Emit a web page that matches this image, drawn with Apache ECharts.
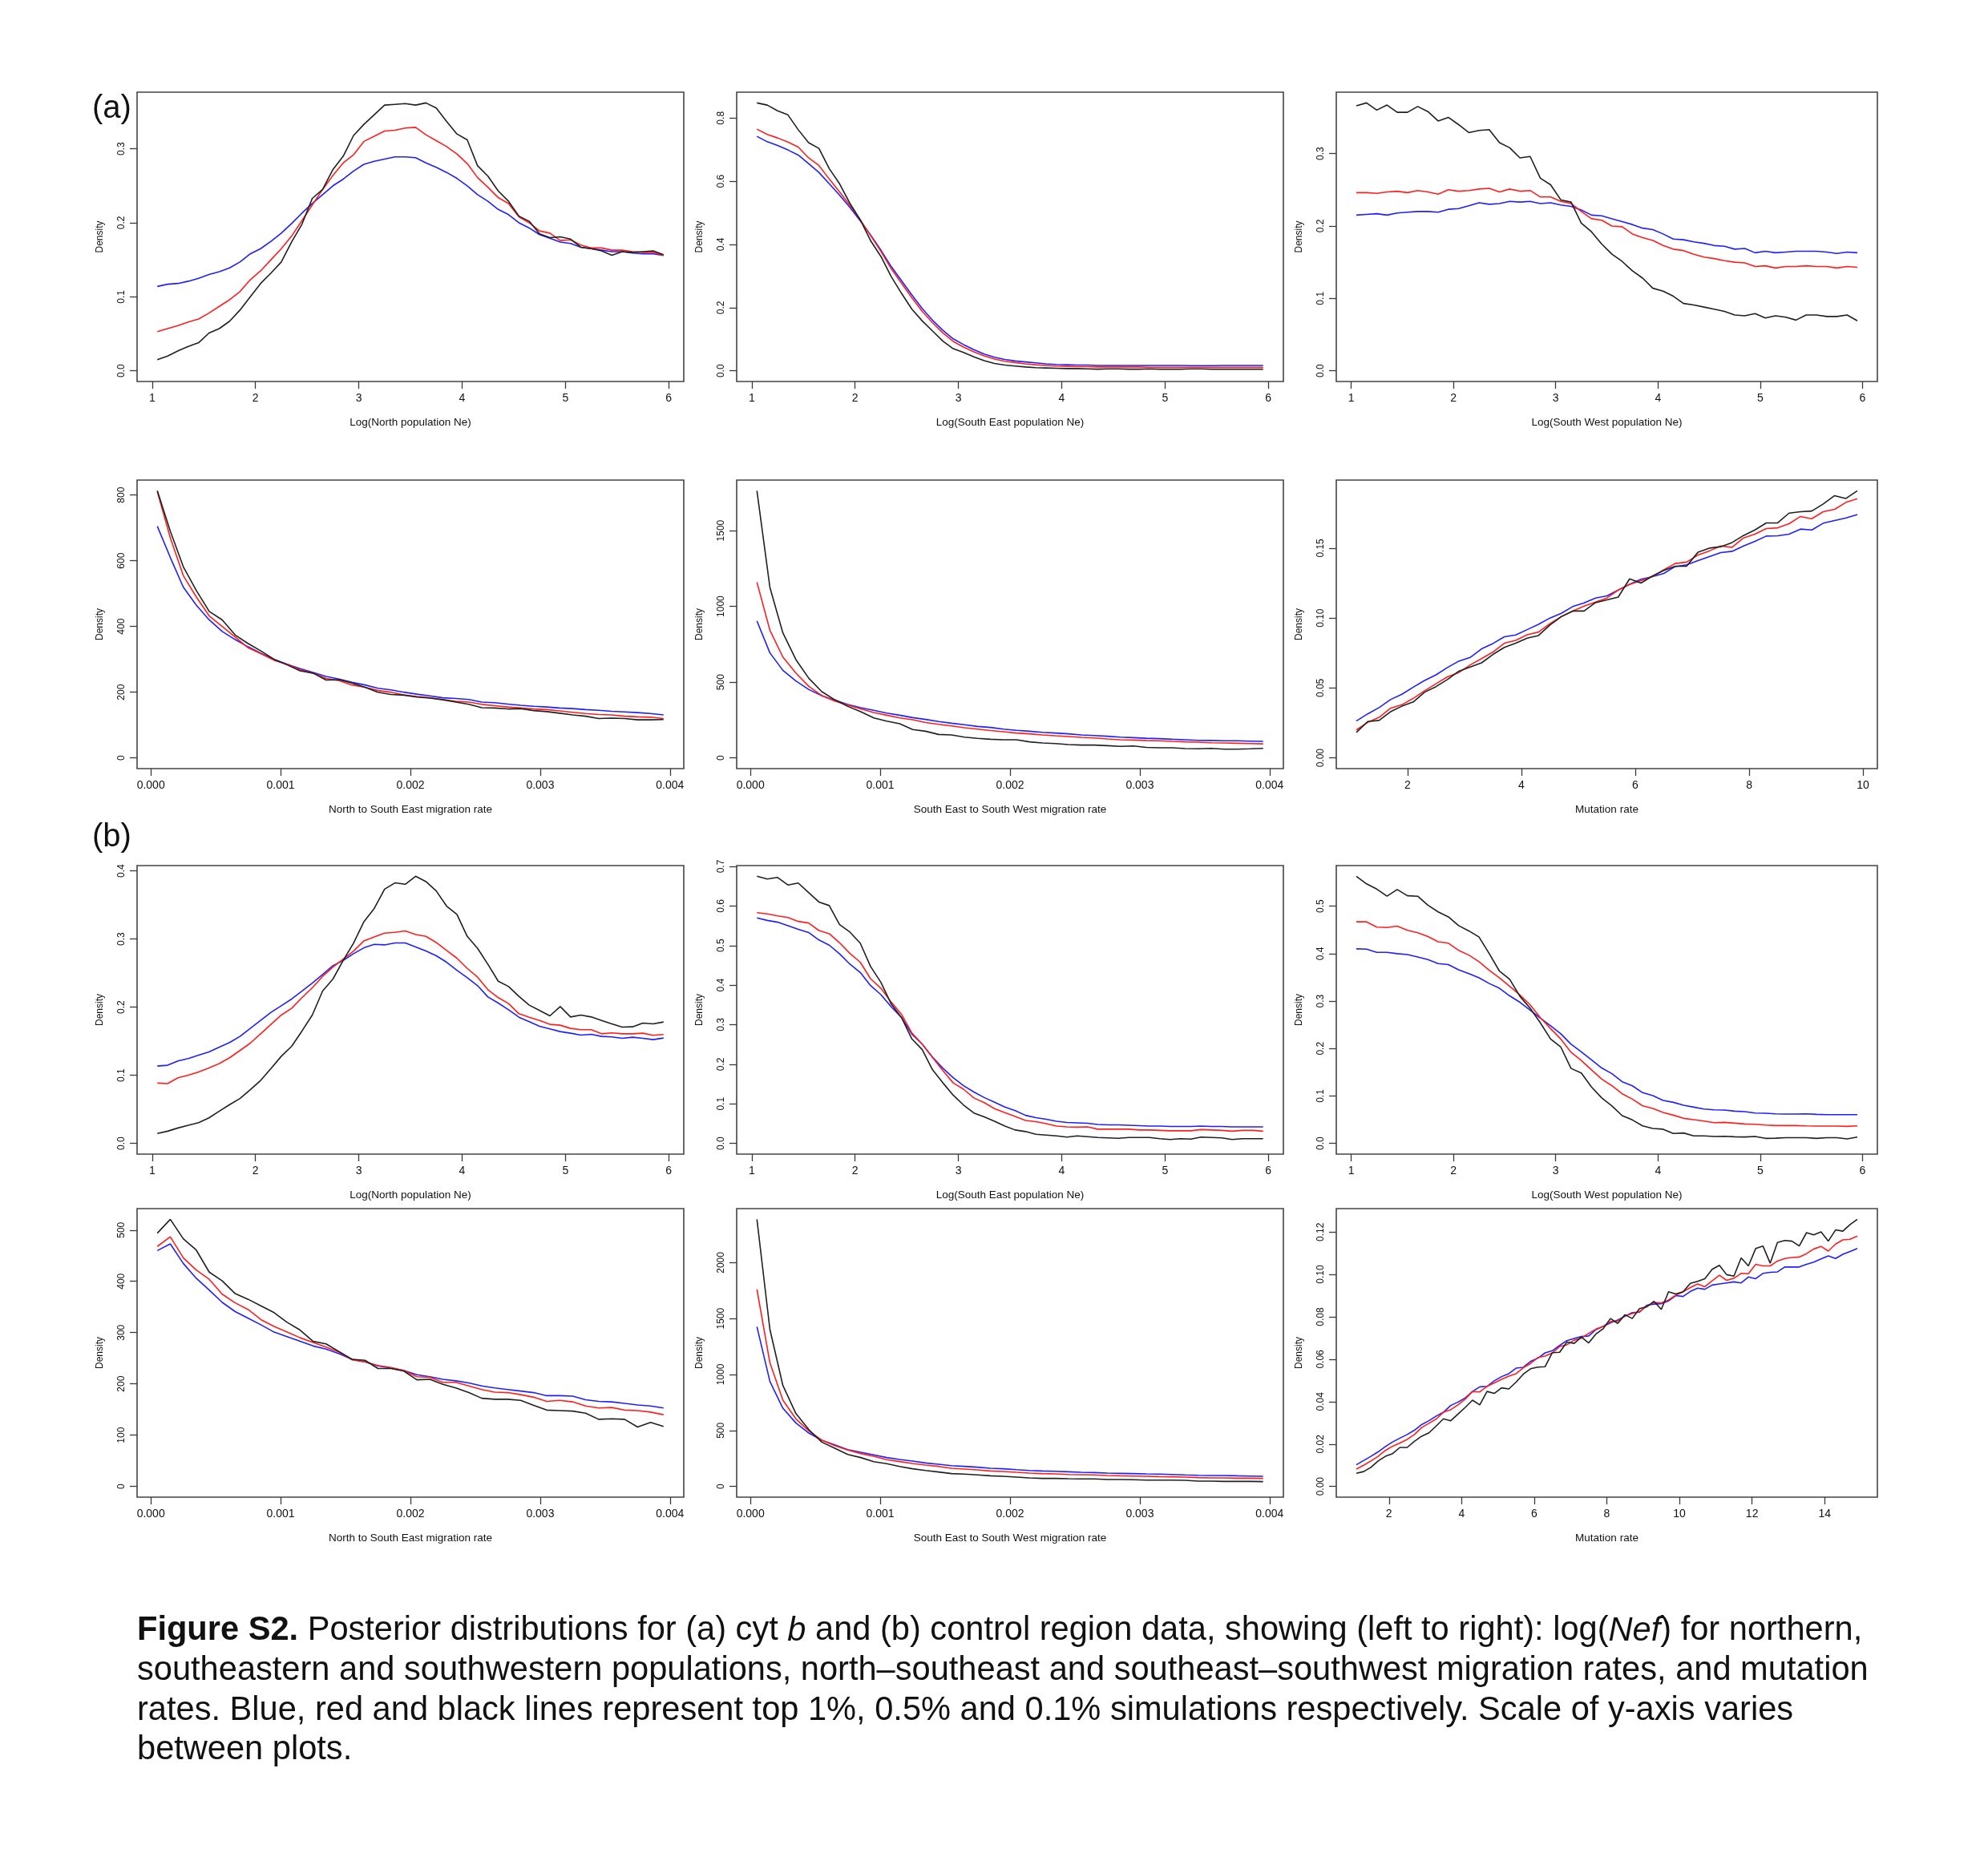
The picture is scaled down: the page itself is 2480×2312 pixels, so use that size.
<!DOCTYPE html>
<html>
<head>
<meta charset="utf-8">
<script src="https://cdn.jsdelivr.net/npm/echarts@6/dist/echarts.min.js"></script>
<style>html,body{margin:0;padding:0;background:#fff}#c{width:2480px;height:2312px}</style>
</head>
<body>
<div id="c"></div>
<script>
// ---------- x positions (bin centres) ----------
const popX = [1.05,1.15,1.25,1.35,1.45,1.55,1.65,1.75,1.85,1.95,2.05,2.15,2.25,2.35,2.45,2.55,2.65,2.75,2.85,2.95,3.05,3.15,3.25,3.35,3.45,3.55,3.65,3.75,3.85,3.95,4.05,4.15,4.25,4.35,4.45,4.55,4.65,4.75,4.85,4.95,5.05,5.15,5.25,5.35,5.45,5.55,5.65,5.75,5.85,5.95];
const migX = [0.00005,0.00015,0.00025,0.00035,0.00045,0.00055,0.00065,0.00075,0.00085,0.00095,0.00105,0.00115,0.00125,0.00135,0.00145,0.00155,0.00165,0.00175,0.00185,0.00195,0.00205,0.00215,0.00225,0.00235,0.00245,0.00255,0.00265,0.00275,0.00285,0.00295,0.00305,0.00315,0.00325,0.00335,0.00345,0.00355,0.00365,0.00375,0.00385,0.00395];
const mutXa = [1.1,1.3,1.5,1.7,1.9,2.1,2.3,2.5,2.7,2.9,3.1,3.3,3.5,3.7,3.9,4.1,4.3,4.5,4.7,4.9,5.1,5.3,5.5,5.7,5.9,6.1,6.3,6.5,6.7,6.9,7.1,7.3,7.5,7.7,7.9,8.1,8.3,8.5,8.7,8.9,9.1,9.3,9.5,9.7,9.9];
const mutXb = [1.1,1.3,1.5,1.7,1.9,2.1,2.3,2.5,2.7,2.9,3.1,3.3,3.5,3.7,3.9,4.1,4.3,4.5,4.7,4.9,5.1,5.3,5.5,5.7,5.9,6.1,6.3,6.5,6.7,6.9,7.1,7.3,7.5,7.7,7.9,8.1,8.3,8.5,8.7,8.9,9.1,9.3,9.5,9.7,9.9,10.1,10.3,10.5,10.7,10.9,11.1,11.3,11.5,11.7,11.9,12.1,12.3,12.5,12.7,12.9,13.1,13.3,13.5,13.7,13.9,14.1,14.3,14.5,14.7,14.9];

// ---------- (a) cyt b ----------
const aNorthBlue  = [.114,.117,.118,.121,.125,.130,.134,.139,.147,.158,.165,.175,.186,.199,.213,.226,.238,.250,.259,.270,.279,.283,.286,.289,.289,.288,.281,.275,.268,.260,.250,.238,.229,.218,.211,.200,.193,.184,.179,.174,.172,.167,.165,.163,.161,.161,.159,.158,.158,.156];
const aNorthRed   = [.053,.057,.061,.066,.070,.078,.087,.096,.107,.123,.135,.150,.165,.182,.203,.224,.245,.264,.281,.292,.310,.317,.324,.325,.328,.329,.319,.311,.303,.293,.280,.261,.248,.234,.226,.208,.200,.189,.186,.176,.177,.170,.166,.166,.163,.163,.161,.160,.160,.156];
const aNorthBlack = [.015,.020,.027,.033,.038,.051,.057,.067,.082,.100,.118,.132,.147,.174,.198,.233,.245,.272,.290,.318,.333,.346,.359,.360,.361,.359,.362,.355,.337,.320,.312,.277,.263,.243,.229,.209,.202,.185,.180,.181,.178,.167,.165,.162,.156,.161,.160,.161,.162,.157];

const aSEBlue  = [.742,.725,.713,.699,.683,.656,.628,.592,.556,.517,.475,.430,.382,.330,.285,.240,.197,.160,.128,.101,.083,.067,.053,.043,.036,.031,.028,.025,.022,.020,.019,.018,.018,.017,.017,.017,.017,.017,.017,.017,.017,.017,.016,.016,.016,.017,.017,.017,.017,.017];
const aSERed   = [.765,.748,.737,.724,.708,.674,.650,.607,.566,.524,.478,.428,.378,.323,.277,.231,.188,.152,.120,.093,.075,.060,.047,.037,.030,.026,.022,.019,.017,.015,.014,.013,.013,.012,.012,.012,.012,.012,.011,.011,.011,.011,.011,.011,.011,.011,.011,.011,.011,.011];
const aSEBlack = [.848,.841,.823,.810,.763,.722,.704,.640,.592,.530,.478,.412,.362,.298,.245,.195,.158,.126,.094,.070,.058,.044,.032,.023,.018,.015,.012,.010,.009,.008,.007,.007,.006,.005,.006,.006,.005,.005,.006,.005,.005,.005,.006,.006,.005,.005,.005,.005,.005,.005];

const aSWBlue  = [.215,.216,.217,.215,.218,.219,.220,.220,.219,.223,.224,.228,.232,.230,.231,.234,.233,.234,.231,.232,.229,.227,.222,.215,.214,.210,.206,.202,.197,.195,.189,.182,.181,.178,.176,.173,.172,.168,.169,.163,.165,.163,.164,.165,.165,.165,.164,.162,.164,.163];
const aSWRed   = [.246,.246,.245,.247,.248,.246,.249,.247,.244,.250,.248,.249,.251,.252,.247,.251,.248,.249,.240,.240,.234,.231,.220,.210,.208,.200,.199,.189,.184,.180,.173,.168,.166,.161,.157,.155,.152,.150,.149,.144,.145,.142,.144,.144,.145,.144,.144,.142,.144,.143];
const aSWBlack = [.366,.370,.360,.367,.357,.357,.365,.358,.345,.350,.340,.329,.332,.333,.315,.308,.294,.296,.266,.257,.236,.233,.204,.192,.175,.161,.151,.138,.128,.114,.110,.103,.093,.091,.088,.085,.082,.077,.076,.079,.073,.076,.074,.070,.077,.077,.075,.075,.077,.069];

const aMigNSEBlue  = [705,610,520,465,420,385,360,338,318,300,285,272,260,248,240,230,222,212,207,200,194,189,183,181,178,170,168,164,160,157,155,152,150,147,145,142,140,138,135,131];
const aMigNSERed   = [810,670,555,490,432,400,368,335,317,297,285,268,258,242,235,222,215,205,200,192,187,183,178,172,170,163,159,155,152,149,147,143,139,135,132,131,127,125,124,120];
const aMigNSEBlack = [813,690,582,510,446,420,374,348,325,300,283,265,258,237,238,228,215,200,193,191,185,182,177,170,163,153,152,149,150,144,141,136,131,127,120,121,120,116,116,117];

const aMigSWBlue  = [904,693,578,508,451,411,381,353,331,314,296,282,266,254,240,229,219,208,201,190,182,176,169,164,159,152,148,143,137,134,130,127,123,120,116,115,113,113,111,109];
const aMigSWRed   = [1160,843,666,560,472,411,375,349,323,300,282,264,252,234,222,211,199,190,181,173,164,159,152,146,141,136,132,125,120,118,115,113,109,106,104,100,99,97,95,93];
const aMigSWBlack = [1763,1125,825,649,525,437,384,340,305,264,243,226,187,176,155,152,137,129,123,120,120,106,99,95,88,85,85,81,76,79,70,67,67,62,60,63,58,58,60,63];

const aMutBlue  = [.0264,.0315,.036,.0417,.0455,.0506,.0554,.0594,.0646,.0692,.0718,.078,.0818,.0866,.0879,.0917,.0955,.100,.1034,.1082,.1108,.1143,.1158,.120,.1242,.1277,.1296,.1319,.1368,.138,.141,.1439,.1468,.1477,.1515,.1548,.1586,.1588,.160,.1636,.163,.1678,.1697,.1716,.174];
const aMutRed   = [.020,.0254,.029,.0355,.038,.0426,.048,.053,.058,.061,.0665,.071,.0757,.082,.084,.088,.090,.096,.101,.105,.1085,.1114,.1143,.120,.124,.1267,.1296,.1345,.139,.140,.145,.148,.1515,.1506,.1573,.160,.164,.1645,.1674,.1726,.171,.176,.1777,.1827,.1853];
const aMutBlack = [.0182,.026,.0268,.033,.037,.040,.047,.051,.056,.062,.065,.068,.074,.079,.082,.0856,.0875,.095,.101,.105,.105,.111,.113,.115,.128,.125,.130,.134,.137,.137,.147,.150,.151,.154,.159,.163,.168,.168,.175,.176,.1765,.1815,.1875,.1855,.191];

// ---------- (b) control region ----------
const bNorthBlue  = [.1136,.1148,.1211,.1246,.1297,.1344,.1415,.1481,.1571,.1689,.1806,.1924,.2022,.212,.2237,.2355,.248,.261,.2688,.2786,.2872,.2923,.2915,.2943,.2943,.2884,.2825,.2755,.2661,.2543,.2433,.2316,.2151,.2061,.1963,.1853,.1787,.172,.1681,.1642,.1618,.1591,.1603,.1571,.1564,.1544,.156,.1544,.1524,.1548];
const bNorthRed   = [.0886,.0878,.0964,.1003,.105,.1109,.1172,.1258,.1364,.1473,.161,.1748,.1885,.1983,.214,.2285,.2453,.259,.2708,.2825,.2974,.3033,.3088,.310,.3119,.3068,.304,.295,.2833,.272,.257,.2441,.2257,.214,.2053,.1904,.1853,.1806,.1748,.1736,.1689,.1669,.1669,.161,.1622,.161,.161,.1618,.1587,.1599];
const bNorthBlack = [.0145,.018,.0227,.0266,.0306,.0376,.0474,.057,.066,.0788,.0925,.110,.128,.1426,.165,.1885,.2237,.2414,.2688,.2943,.3256,.345,.3734,.3825,.3805,.3922,.3844,.3707,.3484,.3362,.304,.2864,.263,.2382,.2304,.216,.203,.1952,.1873,.201,.1857,.1885,.1857,.1806,.1755,.1708,.1712,.1767,.1755,.1783];

const bSEBlue  = [.570,.5635,.559,.550,.541,.533,.514,.501,.479,.453,.432,.399,.376,.345,.318,.276,.251,.218,.190,.166,.146,.130,.116,.104,.092,.083,.071,.065,.061,.056,.053,.052,.051,.048,.047,.047,.046,.045,.044,.044,.043,.043,.043,.044,.043,.043,.042,.042,.042,.042];
const bSERed   = [.583,.580,.575,.571,.561,.557,.538,.530,.507,.480,.458,.416,.392,.357,.326,.279,.251,.217,.184,.153,.137,.115,.103,.088,.078,.068,.058,.055,.050,.044,.042,.041,.042,.036,.036,.036,.036,.034,.034,.033,.032,.032,.032,.035,.034,.033,.031,.033,.033,.031];
const bSEBlack = [.675,.668,.672,.653,.658,.634,.610,.601,.553,.534,.506,.447,.407,.352,.318,.264,.237,.186,.153,.122,.097,.077,.067,.056,.044,.034,.030,.023,.021,.019,.016,.019,.017,.015,.014,.013,.015,.015,.015,.012,.010,.012,.011,.016,.015,.014,.010,.012,.012,.012];

const bSWBlue  = [.410,.4095,.4027,.4027,.400,.398,.393,.3875,.379,.377,.366,.358,.349,.337,.327,.311,.2975,.281,.264,.248,.231,.209,.193,.176,.159,.147,.130,.1215,.107,.1007,.0906,.0866,.0804,.0765,.0726,.0709,.0703,.068,.0669,.0641,.0636,.0624,.0619,.0619,.0624,.0613,.0607,.0607,.0607,.0607];
const bSWRed   = [.467,.467,.456,.455,.458,.449,.444,.436,.425,.422,.407,.397,.383,.365,.349,.331,.313,.292,.265,.242,.220,.192,.175,.155,.1355,.1215,.1046,.0934,.0793,.0737,.0652,.0596,.0529,.050,.0472,.0439,.0444,.0427,.041,.0405,.0388,.0377,.0377,.0377,.0371,.0366,.0366,.0366,.036,.0371];
const bSWBlack = [.563,.547,.536,.521,.535,.522,.521,.502,.488,.4775,.459,.448,.435,.400,.363,.346,.310,.285,.254,.220,.203,.158,.1485,.119,.096,.079,.0585,.0495,.037,.0315,.030,.021,.022,.016,.016,.0146,.015,.014,.0135,.0146,.0107,.011,.012,.012,.012,.0107,.012,.012,.0096,.0135];

const bMigNSEBlue  = [460,473,435,406,383,359,341,328,315,301,292,283,274,268,259,248,243,235,231,226,218,214,209,206,202,196,192,189,186,183,177,177,176,169,166,165,162,159,157,153];
const bMigNSERed   = [468,487,446,422,404,375,358,345,325,312,301,290,281,272,262,247,243,236,232,226,214,213,203,203,196,189,184,183,179,174,166,168,165,157,153,154,149,148,145,140];
const bMigNSEBlack = [494,521,483,461,418,401,376,365,352,339,320,305,283,278,263,248,246,230,230,225,208,209,199,192,183,172,170,170,168,158,149,148,147,143,131,132,131,116,125,117];

const bMigSWBlue  = [1427,938,699,568,477,413,372,329,305,282,258,241,227,210,198,186,179,172,162,158,150,143,138,136,131,126,124,119,117,115,112,110,107,103,100,98,98,95,93,91];
const bMigSWRed   = [1761,1105,771,604,496,413,365,325,294,270,239,222,205,191,179,162,155,148,138,134,126,119,115,112,107,105,103,98,95,93,91,88,86,84,79,76,76,74,74,72];
const bMigSWBlack = [2387,1403,902,652,508,396,341,286,258,222,203,179,158,143,129,115,110,103,95,91,84,76,72,72,69,67,67,62,62,60,57,57,57,55,48,48,45,45,45,43];

const bMutBlue  = [.0102,.0122,.0142,.0163,.0188,.0210,.0228,.0245,.0265,.0292,.0310,.0332,.0350,.0382,.0398,.0418,.0448,.0470,.0472,.0498,.0518,.0532,.0558,.0562,.0590,.0605,.0630,.0640,.0665,.0688,.0698,.0707,.0710,.0740,.0755,.0772,.0785,.0803,.0820,.0822,.0855,.0860,.0862,.0875,.0900,.0896,.0920,.0935,.0930,.0950,.0955,.0960,.0965,.0960,.0988,.0980,.1005,.1010,.1012,.1035,.1035,.1035,.1048,.1058,.1073,.1087,.1075,.1095,.1108,.1122];
const bMutRed   = [.0082,.0100,.0120,.0142,.0170,.0190,.0205,.0222,.0245,.0278,.0298,.0318,.0350,.0362,.0385,.0412,.0448,.0446,.0472,.0488,.0505,.0520,.0532,.0560,.0580,.0608,.0615,.0630,.0660,.0668,.0690,.0700,.0722,.0742,.0755,.0778,.0780,.0805,.0815,.0825,.0850,.0868,.0865,.0880,.0902,.0918,.0938,.0955,.0942,.0970,.0996,.0972,.0982,.1005,.1003,.1048,.1040,.1040,.1063,.1075,.1080,.1082,.1098,.1120,.1132,.1110,.1143,.1163,.1166,.1181];
const bMutBlack = [.0062,.007,.009,.012,.0142,.0155,.0184,.0184,.0213,.0237,.0253,.0285,.0319,.031,.0341,.0373,.0407,.0385,.0448,.0439,.0465,.046,.0492,.053,.0555,.0563,.0565,.0631,.0633,.0681,.0675,.0704,.0677,.0719,.0744,.0792,.0769,.081,.0792,.0839,.0847,.0873,.0835,.0918,.0908,.0918,.0958,.0967,.098,.1024,.1043,.0999,.0992,.1078,.104,.1122,.1134,.1053,.1151,.116,.1157,.1134,.1197,.1187,.1201,.1157,.121,.1204,.1235,.126];

// ---------- ticks & labels ----------
const popTicks = [1,2,3,4,5,6];
const popTickLabels = ['1','2','3','4','5','6'];
const migTicks = [0,0.001,0.002,0.003,0.004];
const migTickLabels = ['0.000','0.001','0.002','0.003','0.004'];
const mutTicksA = [2,4,6,8,10];
const mutTickLabelsA = ['2','4','6','8','10'];
const mutTicksB = [2,4,6,8,10,12,14];
const mutTickLabelsB = ['2','4','6','8','10','12','14'];

const yTicksA1 = [0,0.1,0.2,0.3];           const yLabelsA1 = ['0.0','0.1','0.2','0.3'];
const yTicksA2 = [0,0.2,0.4,0.6,0.8];       const yLabelsA2 = ['0.0','0.2','0.4','0.6','0.8'];
const yTicksA3 = [0,0.1,0.2,0.3];           const yLabelsA3 = ['0.0','0.1','0.2','0.3'];
const yTicksA4 = [0,200,400,600,800];       const yLabelsA4 = ['0','200','400','600','800'];
const yTicksA5 = [0,500,1000,1500];         const yLabelsA5 = ['0','500','1000','1500'];
const yTicksA6 = [0,0.05,0.10,0.15];        const yLabelsA6 = ['0.00','0.05','0.10','0.15'];
const yTicksB1 = [0,0.1,0.2,0.3,0.4];       const yLabelsB1 = ['0.0','0.1','0.2','0.3','0.4'];
const yTicksB2 = [0,0.1,0.2,0.3,0.4,0.5,0.6,0.7]; const yLabelsB2 = ['0.0','0.1','0.2','0.3','0.4','0.5','0.6','0.7'];
const yTicksB3 = [0,0.1,0.2,0.3,0.4,0.5];   const yLabelsB3 = ['0.0','0.1','0.2','0.3','0.4','0.5'];
const yTicksB4 = [0,100,200,300,400,500];   const yLabelsB4 = ['0','100','200','300','400','500'];
const yTicksB5 = [0,500,1000,1500,2000];    const yLabelsB5 = ['0','500','1000','1500','2000'];
const yTicksB6 = [0,0.02,0.04,0.06,0.08,0.10,0.12]; const yLabelsB6 = ['0.00','0.02','0.04','0.06','0.08','0.10','0.12'];

const xTitles = ['Log(North population Ne)','Log(South East population Ne)','Log(South West population Ne)',
  'North to South East migration rate','South East to South West migration rate','Mutation rate'];
const yTitle = 'Density';
const seriesColors = ['#1f1fff','#ff1f1f','#202020'];

// ---------- panel table ----------
const panels = [
  {x:popX, s:[aNorthBlue,aNorthRed,aNorthBlack], xt:popTicks, xl:popTickLabels, yt:yTicksA1, yl:yLabelsA1, t:xTitles[0]},
  {x:popX, s:[aSEBlue,aSERed,aSEBlack], xt:popTicks, xl:popTickLabels, yt:yTicksA2, yl:yLabelsA2, t:xTitles[1]},
  {x:popX, s:[aSWBlue,aSWRed,aSWBlack], xt:popTicks, xl:popTickLabels, yt:yTicksA3, yl:yLabelsA3, t:xTitles[2]},
  {x:migX, s:[aMigNSEBlue,aMigNSERed,aMigNSEBlack], xt:migTicks, xl:migTickLabels, yt:yTicksA4, yl:yLabelsA4, t:xTitles[3]},
  {x:migX, s:[aMigSWBlue,aMigSWRed,aMigSWBlack], xt:migTicks, xl:migTickLabels, yt:yTicksA5, yl:yLabelsA5, t:xTitles[4]},
  {x:mutXa, s:[aMutBlue,aMutRed,aMutBlack], xt:mutTicksA, xl:mutTickLabelsA, yt:yTicksA6, yl:yLabelsA6, t:xTitles[5]},
  {x:popX, s:[bNorthBlue,bNorthRed,bNorthBlack], xt:popTicks, xl:popTickLabels, yt:yTicksB1, yl:yLabelsB1, t:xTitles[0]},
  {x:popX, s:[bSEBlue,bSERed,bSEBlack], xt:popTicks, xl:popTickLabels, yt:yTicksB2, yl:yLabelsB2, t:xTitles[1]},
  {x:popX, s:[bSWBlue,bSWRed,bSWBlack], xt:popTicks, xl:popTickLabels, yt:yTicksB3, yl:yLabelsB3, t:xTitles[2]},
  {x:migX, s:[bMigNSEBlue,bMigNSERed,bMigNSEBlack], xt:migTicks, xl:migTickLabels, yt:yTicksB4, yl:yLabelsB4, t:xTitles[3]},
  {x:migX, s:[bMigSWBlue,bMigSWRed,bMigSWBlack], xt:migTicks, xl:migTickLabels, yt:yTicksB5, yl:yLabelsB5, t:xTitles[4]},
  {x:mutXb, s:[bMutBlue,bMutRed,bMutBlack], xt:mutTicksB, xl:mutTickLabelsB, yt:yTicksB6, yl:yLabelsB6, t:xTitles[5]}
];

// layout (pixels)
const colLeft = [171, 919, 1667];
const colWidth = [682, 682, 675];
const rowTop = [115, 599, 1080, 1508];
const rowHeight = [361, 360, 360, 360];

const NARROW = '"Liberation Sans Narrow", "Liberation Sans", Arial, sans-serif';
const REG = '"Liberation Sans", Arial, sans-serif';
const AXC = '#3a3a3a';

function labelFor(ticks, labels) {
  return function (v) {
    for (let i = 0; i < ticks.length; i++) if (Math.abs(ticks[i] - v) < 1e-9 * Math.max(1, Math.abs(v)) + 1e-12) return labels[i];
    return '';
  };
}

const grids = [], xAxes = [], yAxes = [], series = [];
panels.forEach((p, i) => {
  const r = Math.floor(i / 3), c = i % 3;
  grids.push({left: colLeft[c], top: rowTop[r], width: colWidth[c], height: rowHeight[r],
    show: true, borderColor: '#444', borderWidth: 1.6, backgroundColor: 'transparent'});
  const xmin = p.x[0], xmax = p.x[p.x.length - 1], xe = 0.04 * (xmax - xmin);
  let ymax = 0;
  p.s.forEach(a => a.forEach(v => { if (v > ymax) ymax = v; }));
  const ye = 0.04 * ymax;
  xAxes.push({type: 'value', gridIndex: i, position: 'bottom', min: xmin - xe, max: xmax + xe,
    axisLine: {show: false, onZero: false}, splitLine: {show: false},
    axisTick: {show: true, length: 9, inside: false, customValues: p.xt, lineStyle: {color: AXC, width: 1.3}},
    axisLabel: {show: true, customValues: p.xt, formatter: labelFor(p.xt, p.xl), margin: 14,
      fontFamily: NARROW, fontSize: 14, color: '#111'},
    name: p.t, nameLocation: 'middle', nameGap: 44,
    nameTextStyle: {fontFamily: NARROW, fontSize: 13.5, color: '#111'}
  });
  yAxes.push({type: 'value', gridIndex: i, position: 'left', min: -ye, max: ymax + ye,
    axisLine: {show: false, onZero: false}, splitLine: {show: false},
    axisTick: {show: true, length: 9, inside: false, customValues: p.yt, lineStyle: {color: AXC, width: 1.3}},
    axisLabel: {show: true, customValues: p.yt, formatter: labelFor(p.yt, p.yl), rotate: 90, margin: 13,
      fontFamily: REG, fontSize: 12, color: '#111'},
    name: yTitle, nameLocation: 'middle', nameGap: 40, nameRotate: 90,
    nameTextStyle: {fontFamily: REG, fontSize: 12, color: '#111'}
  });
  p.s.forEach((arr, k) => {
    series.push({type: 'line', xAxisIndex: i, yAxisIndex: i,
      data: arr.map((v, j) => [p.x[j], v]),
      showSymbol: false, symbol: 'none', silent: true, animation: false,
      lineStyle: {color: seriesColors[k], width: 1.6}, z: 2 + k});
  });
});

const capFont = 41.6;
const rich = {
  b: {fontWeight: 'bold', fontSize: capFont, fontFamily: REG, fill: '#111'},
  i: {fontStyle: 'italic', fontSize: capFont, fontFamily: REG, fill: '#111'},
  n: {fontSize: capFont, fontFamily: REG, fill: '#111'}
};
const captionLines = [
  '{b|Figure S2.}{n| Posterior distributions for (a) cyt }{i|b}{n| and (b) control region data, showing (left to right): log(}{i|Nef}{n|) for northern,}',
  '{n|southeastern and southwestern populations, north\u2013southeast and southeast\u2013southwest migration rates, and mutation}',
  '{n|rates. Blue, red and black lines represent top 1%, 0.5% and 0.1% simulations respectively. Scale of y-axis varies}',
  '{n|between plots.}'
];
const captionY = [2035, 2085, 2135, 2184];

const graphic = [
  {type: 'text', x: 115, y: 136, style: {text: '(a)', fontSize: 40, fontFamily: REG, fill: '#111', verticalAlign: 'middle'}},
  {type: 'text', x: 115, y: 1045, style: {text: '(b)', fontSize: 40, fontFamily: REG, fill: '#111', verticalAlign: 'middle'}}
];
captionLines.forEach((t, i) => {
  graphic.push({type: 'text', x: 171, y: captionY[i],
    style: {text: t, rich: rich, fontSize: capFont, fontFamily: REG, fill: '#111', verticalAlign: 'middle'}});
});

const chart = echarts.init(document.getElementById('c'), null, {renderer: 'canvas'});
chart.setOption({
  backgroundColor: '#ffffff',
  animation: false,
  grid: grids, xAxis: xAxes, yAxis: yAxes, series: series,
  graphic: graphic
});
</script>
</body>
</html>
